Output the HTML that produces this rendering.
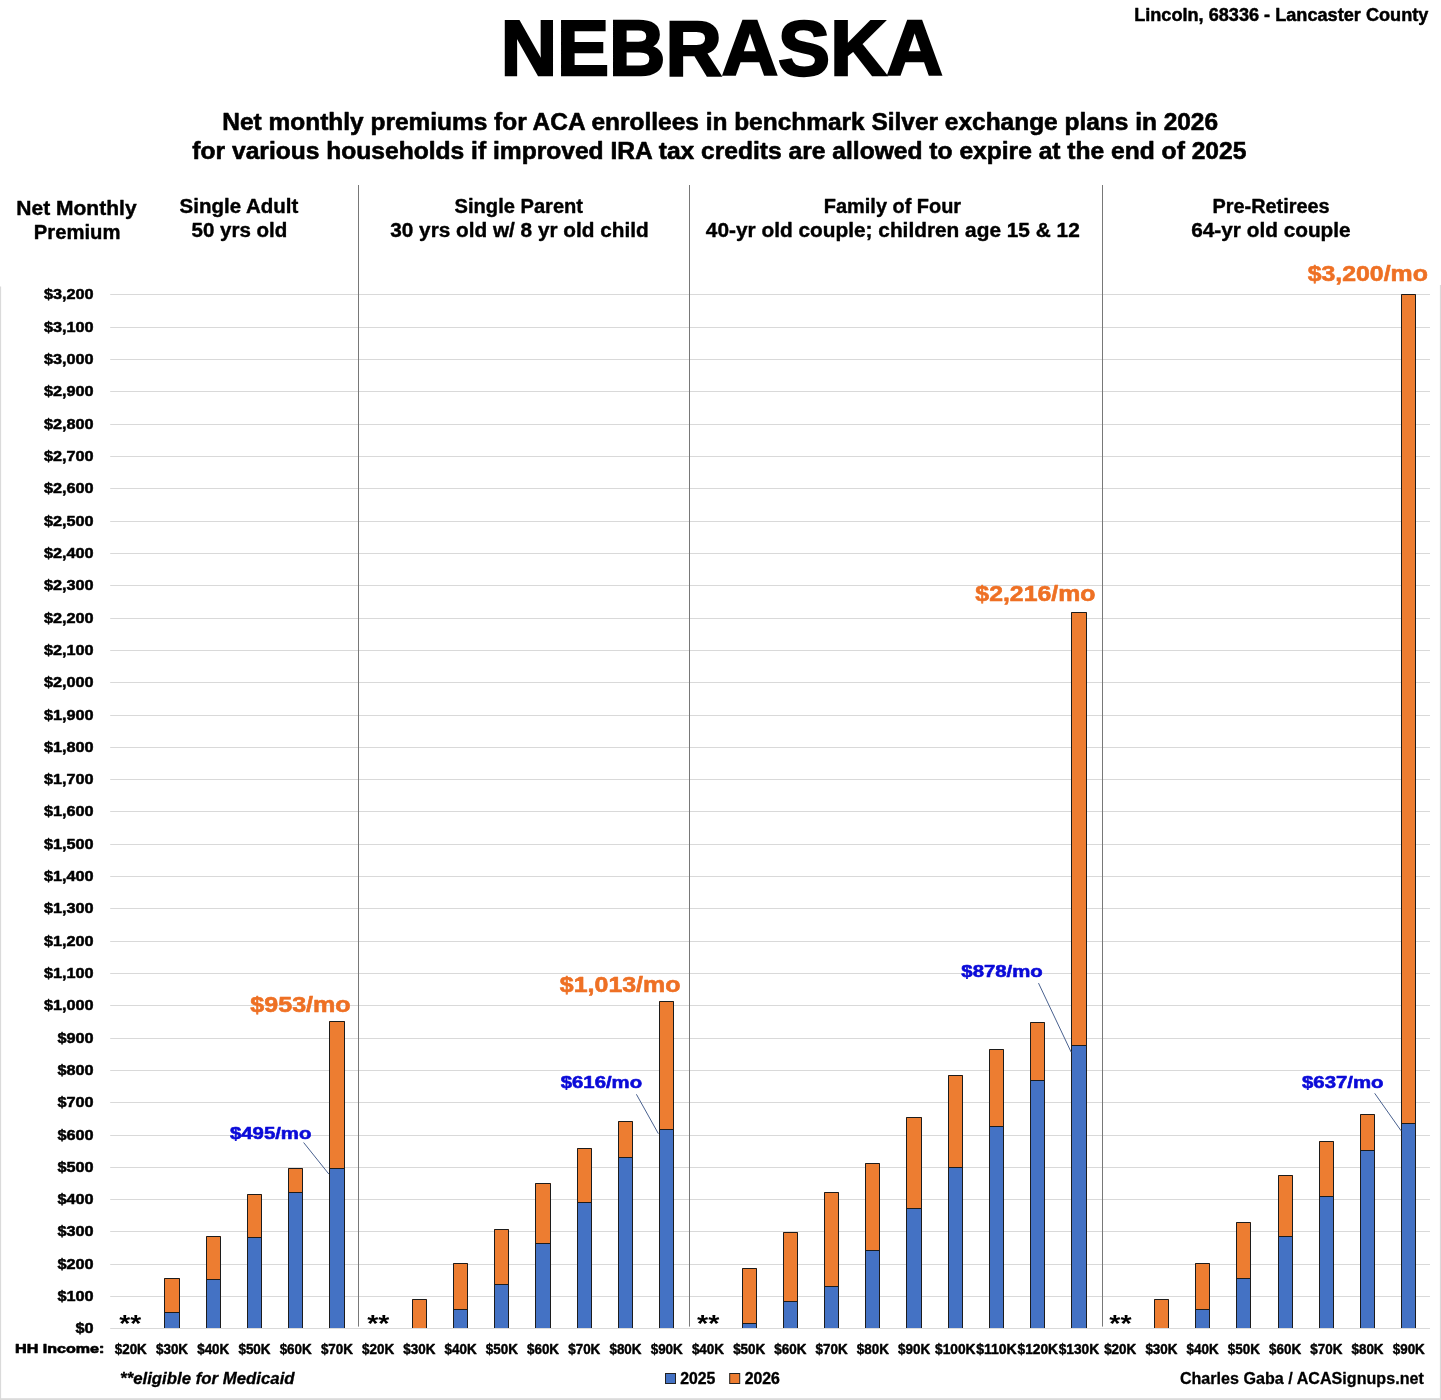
<!DOCTYPE html>
<html lang="en"><head><meta charset="utf-8"><title>Nebraska - ACA net monthly premiums 2026</title>
<style>
html,body{margin:0;padding:0;background:#fff;}
body{width:1441px;height:1400px;overflow:hidden;}
svg{display:block;will-change:transform;font-family:"Liberation Sans",sans-serif;font-weight:700;}
text{white-space:pre;}
</style></head><body>
<svg role="img" aria-label="Nebraska ACA net monthly premiums chart" width="1441" height="1400" viewBox="0 0 1441 1400">
<rect width="1441" height="1400" fill="#fff"/>
<rect x="0" y="286.5" width="1.1" height="1113.5" fill="#DADADA"/>
<rect x="1439.9" y="285" width="1.1" height="1115" fill="#DADADA"/>
<rect x="0" y="1398.2" width="1441" height="1.8" fill="#DADADA"/>
<line x1="110.2" x2="1430.0" y1="1328.5" y2="1328.5" stroke="#D9D9D9" stroke-width="1"/>
<line x1="110.2" x2="1430.0" y1="1296.5" y2="1296.5" stroke="#D9D9D9" stroke-width="1"/>
<line x1="110.2" x2="1430.0" y1="1264.5" y2="1264.5" stroke="#D9D9D9" stroke-width="1"/>
<line x1="110.2" x2="1430.0" y1="1231.5" y2="1231.5" stroke="#D9D9D9" stroke-width="1"/>
<line x1="110.2" x2="1430.0" y1="1199.5" y2="1199.5" stroke="#D9D9D9" stroke-width="1"/>
<line x1="110.2" x2="1430.0" y1="1167.5" y2="1167.5" stroke="#D9D9D9" stroke-width="1"/>
<line x1="110.2" x2="1430.0" y1="1135.5" y2="1135.5" stroke="#D9D9D9" stroke-width="1"/>
<line x1="110.2" x2="1430.0" y1="1102.5" y2="1102.5" stroke="#D9D9D9" stroke-width="1"/>
<line x1="110.2" x2="1430.0" y1="1070.5" y2="1070.5" stroke="#D9D9D9" stroke-width="1"/>
<line x1="110.2" x2="1430.0" y1="1038.5" y2="1038.5" stroke="#D9D9D9" stroke-width="1"/>
<line x1="110.2" x2="1430.0" y1="1005.5" y2="1005.5" stroke="#D9D9D9" stroke-width="1"/>
<line x1="110.2" x2="1430.0" y1="973.5" y2="973.5" stroke="#D9D9D9" stroke-width="1"/>
<line x1="110.2" x2="1430.0" y1="941.5" y2="941.5" stroke="#D9D9D9" stroke-width="1"/>
<line x1="110.2" x2="1430.0" y1="908.5" y2="908.5" stroke="#D9D9D9" stroke-width="1"/>
<line x1="110.2" x2="1430.0" y1="876.5" y2="876.5" stroke="#D9D9D9" stroke-width="1"/>
<line x1="110.2" x2="1430.0" y1="844.5" y2="844.5" stroke="#D9D9D9" stroke-width="1"/>
<line x1="110.2" x2="1430.0" y1="811.5" y2="811.5" stroke="#D9D9D9" stroke-width="1"/>
<line x1="110.2" x2="1430.0" y1="779.5" y2="779.5" stroke="#D9D9D9" stroke-width="1"/>
<line x1="110.2" x2="1430.0" y1="747.5" y2="747.5" stroke="#D9D9D9" stroke-width="1"/>
<line x1="110.2" x2="1430.0" y1="715.5" y2="715.5" stroke="#D9D9D9" stroke-width="1"/>
<line x1="110.2" x2="1430.0" y1="682.5" y2="682.5" stroke="#D9D9D9" stroke-width="1"/>
<line x1="110.2" x2="1430.0" y1="650.5" y2="650.5" stroke="#D9D9D9" stroke-width="1"/>
<line x1="110.2" x2="1430.0" y1="618.5" y2="618.5" stroke="#D9D9D9" stroke-width="1"/>
<line x1="110.2" x2="1430.0" y1="585.5" y2="585.5" stroke="#D9D9D9" stroke-width="1"/>
<line x1="110.2" x2="1430.0" y1="553.5" y2="553.5" stroke="#D9D9D9" stroke-width="1"/>
<line x1="110.2" x2="1430.0" y1="521.5" y2="521.5" stroke="#D9D9D9" stroke-width="1"/>
<line x1="110.2" x2="1430.0" y1="488.5" y2="488.5" stroke="#D9D9D9" stroke-width="1"/>
<line x1="110.2" x2="1430.0" y1="456.5" y2="456.5" stroke="#D9D9D9" stroke-width="1"/>
<line x1="110.2" x2="1430.0" y1="424.5" y2="424.5" stroke="#D9D9D9" stroke-width="1"/>
<line x1="110.2" x2="1430.0" y1="391.5" y2="391.5" stroke="#D9D9D9" stroke-width="1"/>
<line x1="110.2" x2="1430.0" y1="359.5" y2="359.5" stroke="#D9D9D9" stroke-width="1"/>
<line x1="110.2" x2="1430.0" y1="327.5" y2="327.5" stroke="#D9D9D9" stroke-width="1"/>
<line x1="110.2" x2="1430.0" y1="294.5" y2="294.5" stroke="#D9D9D9" stroke-width="1"/>
<line x1="358.5" x2="358.5" y1="185" y2="1326.6" stroke="#787878" stroke-width="1"/>
<line x1="689.5" x2="689.5" y1="185" y2="1326.6" stroke="#787878" stroke-width="1"/>
<line x1="1102.5" x2="1102.5" y1="185" y2="1326.6" stroke="#787878" stroke-width="1"/>
<rect x="164" y="1278" width="16" height="34.50" fill="#ED7D31"/>
<rect x="164" y="1312.5" width="16" height="15.50" fill="#4472C4"/>
<path d="M164.5 1328.00 V1278.5 H179.5 V1328.00 M164 1312.5 H180" fill="none" stroke="#1c1c1c" stroke-width="1"/>
<rect x="206" y="1236" width="15" height="43.50" fill="#ED7D31"/>
<rect x="206" y="1279.5" width="15" height="48.50" fill="#4472C4"/>
<path d="M206.5 1328.00 V1236.5 H220.5 V1328.00 M206 1279.5 H221" fill="none" stroke="#1c1c1c" stroke-width="1"/>
<rect x="247" y="1194" width="15" height="43.50" fill="#ED7D31"/>
<rect x="247" y="1237.5" width="15" height="90.50" fill="#4472C4"/>
<path d="M247.5 1328.00 V1194.5 H261.5 V1328.00 M247 1237.5 H262" fill="none" stroke="#1c1c1c" stroke-width="1"/>
<rect x="288" y="1168" width="15" height="24.50" fill="#ED7D31"/>
<rect x="288" y="1192.5" width="15" height="135.50" fill="#4472C4"/>
<path d="M288.5 1328.00 V1168.5 H302.5 V1328.00 M288 1192.5 H303" fill="none" stroke="#1c1c1c" stroke-width="1"/>
<rect x="329" y="1021" width="16" height="147.50" fill="#ED7D31"/>
<rect x="329" y="1168.5" width="16" height="159.50" fill="#4472C4"/>
<path d="M329.5 1328.00 V1021.5 H344.5 V1328.00 M329 1168.5 H345" fill="none" stroke="#1c1c1c" stroke-width="1"/>
<rect x="412" y="1299" width="15" height="29.00" fill="#ED7D31"/>
<path d="M412.5 1328.00 V1299.5 H426.5 V1328.00" fill="none" stroke="#1c1c1c" stroke-width="1"/>
<rect x="453" y="1263" width="15" height="46.50" fill="#ED7D31"/>
<rect x="453" y="1309.5" width="15" height="18.50" fill="#4472C4"/>
<path d="M453.5 1328.00 V1263.5 H467.5 V1328.00 M453 1309.5 H468" fill="none" stroke="#1c1c1c" stroke-width="1"/>
<rect x="494" y="1229" width="15" height="55.50" fill="#ED7D31"/>
<rect x="494" y="1284.5" width="15" height="43.50" fill="#4472C4"/>
<path d="M494.5 1328.00 V1229.5 H508.5 V1328.00 M494 1284.5 H509" fill="none" stroke="#1c1c1c" stroke-width="1"/>
<rect x="535" y="1183" width="16" height="60.50" fill="#ED7D31"/>
<rect x="535" y="1243.5" width="16" height="84.50" fill="#4472C4"/>
<path d="M535.5 1328.00 V1183.5 H550.5 V1328.00 M535 1243.5 H551" fill="none" stroke="#1c1c1c" stroke-width="1"/>
<rect x="577" y="1148" width="15" height="54.50" fill="#ED7D31"/>
<rect x="577" y="1202.5" width="15" height="125.50" fill="#4472C4"/>
<path d="M577.5 1328.00 V1148.5 H591.5 V1328.00 M577 1202.5 H592" fill="none" stroke="#1c1c1c" stroke-width="1"/>
<rect x="618" y="1121" width="15" height="36.50" fill="#ED7D31"/>
<rect x="618" y="1157.5" width="15" height="170.50" fill="#4472C4"/>
<path d="M618.5 1328.00 V1121.5 H632.5 V1328.00 M618 1157.5 H633" fill="none" stroke="#1c1c1c" stroke-width="1"/>
<rect x="659" y="1001" width="15" height="128.50" fill="#ED7D31"/>
<rect x="659" y="1129.5" width="15" height="198.50" fill="#4472C4"/>
<path d="M659.5 1328.00 V1001.5 H673.5 V1328.00 M659 1129.5 H674" fill="none" stroke="#1c1c1c" stroke-width="1"/>
<rect x="742" y="1268" width="15" height="55.50" fill="#ED7D31"/>
<rect x="742" y="1323.5" width="15" height="4.50" fill="#4472C4"/>
<path d="M742.5 1328.00 V1268.5 H756.5 V1328.00 M742 1323.5 H757" fill="none" stroke="#1c1c1c" stroke-width="1"/>
<rect x="783" y="1232" width="15" height="69.50" fill="#ED7D31"/>
<rect x="783" y="1301.5" width="15" height="26.50" fill="#4472C4"/>
<path d="M783.5 1328.00 V1232.5 H797.5 V1328.00 M783 1301.5 H798" fill="none" stroke="#1c1c1c" stroke-width="1"/>
<rect x="824" y="1192" width="15" height="94.50" fill="#ED7D31"/>
<rect x="824" y="1286.5" width="15" height="41.50" fill="#4472C4"/>
<path d="M824.5 1328.00 V1192.5 H838.5 V1328.00 M824 1286.5 H839" fill="none" stroke="#1c1c1c" stroke-width="1"/>
<rect x="865" y="1163" width="15" height="87.50" fill="#ED7D31"/>
<rect x="865" y="1250.5" width="15" height="77.50" fill="#4472C4"/>
<path d="M865.5 1328.00 V1163.5 H879.5 V1328.00 M865 1250.5 H880" fill="none" stroke="#1c1c1c" stroke-width="1"/>
<rect x="906" y="1117" width="16" height="91.50" fill="#ED7D31"/>
<rect x="906" y="1208.5" width="16" height="119.50" fill="#4472C4"/>
<path d="M906.5 1328.00 V1117.5 H921.5 V1328.00 M906 1208.5 H922" fill="none" stroke="#1c1c1c" stroke-width="1"/>
<rect x="948" y="1075" width="15" height="92.50" fill="#ED7D31"/>
<rect x="948" y="1167.5" width="15" height="160.50" fill="#4472C4"/>
<path d="M948.5 1328.00 V1075.5 H962.5 V1328.00 M948 1167.5 H963" fill="none" stroke="#1c1c1c" stroke-width="1"/>
<rect x="989" y="1049" width="15" height="77.50" fill="#ED7D31"/>
<rect x="989" y="1126.5" width="15" height="201.50" fill="#4472C4"/>
<path d="M989.5 1328.00 V1049.5 H1003.5 V1328.00 M989 1126.5 H1004" fill="none" stroke="#1c1c1c" stroke-width="1"/>
<rect x="1030" y="1022" width="15" height="58.50" fill="#ED7D31"/>
<rect x="1030" y="1080.5" width="15" height="247.50" fill="#4472C4"/>
<path d="M1030.5 1328.00 V1022.5 H1044.5 V1328.00 M1030 1080.5 H1045" fill="none" stroke="#1c1c1c" stroke-width="1"/>
<rect x="1071" y="612" width="16" height="433.50" fill="#ED7D31"/>
<rect x="1071" y="1045.5" width="16" height="282.50" fill="#4472C4"/>
<path d="M1071.5 1328.00 V612.5 H1086.5 V1328.00 M1071 1045.5 H1087" fill="none" stroke="#1c1c1c" stroke-width="1"/>
<rect x="1154" y="1299" width="15" height="29.00" fill="#ED7D31"/>
<path d="M1154.5 1328.00 V1299.5 H1168.5 V1328.00" fill="none" stroke="#1c1c1c" stroke-width="1"/>
<rect x="1195" y="1263" width="15" height="46.50" fill="#ED7D31"/>
<rect x="1195" y="1309.5" width="15" height="18.50" fill="#4472C4"/>
<path d="M1195.5 1328.00 V1263.5 H1209.5 V1328.00 M1195 1309.5 H1210" fill="none" stroke="#1c1c1c" stroke-width="1"/>
<rect x="1236" y="1222" width="15" height="56.50" fill="#ED7D31"/>
<rect x="1236" y="1278.5" width="15" height="49.50" fill="#4472C4"/>
<path d="M1236.5 1328.00 V1222.5 H1250.5 V1328.00 M1236 1278.5 H1251" fill="none" stroke="#1c1c1c" stroke-width="1"/>
<rect x="1278" y="1175" width="15" height="61.50" fill="#ED7D31"/>
<rect x="1278" y="1236.5" width="15" height="91.50" fill="#4472C4"/>
<path d="M1278.5 1328.00 V1175.5 H1292.5 V1328.00 M1278 1236.5 H1293" fill="none" stroke="#1c1c1c" stroke-width="1"/>
<rect x="1319" y="1141" width="15" height="55.50" fill="#ED7D31"/>
<rect x="1319" y="1196.5" width="15" height="131.50" fill="#4472C4"/>
<path d="M1319.5 1328.00 V1141.5 H1333.5 V1328.00 M1319 1196.5 H1334" fill="none" stroke="#1c1c1c" stroke-width="1"/>
<rect x="1360" y="1114" width="15" height="36.50" fill="#ED7D31"/>
<rect x="1360" y="1150.5" width="15" height="177.50" fill="#4472C4"/>
<path d="M1360.5 1328.00 V1114.5 H1374.5 V1328.00 M1360 1150.5 H1375" fill="none" stroke="#1c1c1c" stroke-width="1"/>
<rect x="1401" y="294" width="15" height="829.50" fill="#ED7D31"/>
<rect x="1401" y="1123.5" width="15" height="204.50" fill="#4472C4"/>
<path d="M1401.5 1328.00 V294.5 H1415.5 V1328.00 M1401 1123.5 H1416" fill="none" stroke="#1c1c1c" stroke-width="1"/>
<text x="75.58" y="1333.25" font-size="14.60" textLength="18.09" lengthAdjust="spacingAndGlyphs" fill="#000" stroke="#000" stroke-width="0.50" stroke-linejoin="round">$0</text>
<text x="57.49" y="1301.25" font-size="14.60" textLength="36.18" lengthAdjust="spacingAndGlyphs" fill="#000" stroke="#000" stroke-width="0.50" stroke-linejoin="round">$100</text>
<text x="57.49" y="1269.25" font-size="14.60" textLength="36.18" lengthAdjust="spacingAndGlyphs" fill="#000" stroke="#000" stroke-width="0.50" stroke-linejoin="round">$200</text>
<text x="57.49" y="1236.25" font-size="14.60" textLength="36.18" lengthAdjust="spacingAndGlyphs" fill="#000" stroke="#000" stroke-width="0.50" stroke-linejoin="round">$300</text>
<text x="57.49" y="1204.25" font-size="14.60" textLength="36.18" lengthAdjust="spacingAndGlyphs" fill="#000" stroke="#000" stroke-width="0.50" stroke-linejoin="round">$400</text>
<text x="57.49" y="1172.25" font-size="14.60" textLength="36.18" lengthAdjust="spacingAndGlyphs" fill="#000" stroke="#000" stroke-width="0.50" stroke-linejoin="round">$500</text>
<text x="57.49" y="1140.25" font-size="14.60" textLength="36.18" lengthAdjust="spacingAndGlyphs" fill="#000" stroke="#000" stroke-width="0.50" stroke-linejoin="round">$600</text>
<text x="57.49" y="1107.25" font-size="14.60" textLength="36.18" lengthAdjust="spacingAndGlyphs" fill="#000" stroke="#000" stroke-width="0.50" stroke-linejoin="round">$700</text>
<text x="57.49" y="1075.25" font-size="14.60" textLength="36.18" lengthAdjust="spacingAndGlyphs" fill="#000" stroke="#000" stroke-width="0.50" stroke-linejoin="round">$800</text>
<text x="57.49" y="1043.25" font-size="14.60" textLength="36.18" lengthAdjust="spacingAndGlyphs" fill="#000" stroke="#000" stroke-width="0.50" stroke-linejoin="round">$900</text>
<text x="43.92" y="1010.25" font-size="14.60" textLength="49.75" lengthAdjust="spacingAndGlyphs" fill="#000" stroke="#000" stroke-width="0.50" stroke-linejoin="round">$1,000</text>
<text x="43.92" y="978.25" font-size="14.60" textLength="49.75" lengthAdjust="spacingAndGlyphs" fill="#000" stroke="#000" stroke-width="0.50" stroke-linejoin="round">$1,100</text>
<text x="43.92" y="946.25" font-size="14.60" textLength="49.75" lengthAdjust="spacingAndGlyphs" fill="#000" stroke="#000" stroke-width="0.50" stroke-linejoin="round">$1,200</text>
<text x="43.92" y="913.25" font-size="14.60" textLength="49.75" lengthAdjust="spacingAndGlyphs" fill="#000" stroke="#000" stroke-width="0.50" stroke-linejoin="round">$1,300</text>
<text x="43.92" y="881.25" font-size="14.60" textLength="49.75" lengthAdjust="spacingAndGlyphs" fill="#000" stroke="#000" stroke-width="0.50" stroke-linejoin="round">$1,400</text>
<text x="43.92" y="849.25" font-size="14.60" textLength="49.75" lengthAdjust="spacingAndGlyphs" fill="#000" stroke="#000" stroke-width="0.50" stroke-linejoin="round">$1,500</text>
<text x="43.92" y="816.25" font-size="14.60" textLength="49.75" lengthAdjust="spacingAndGlyphs" fill="#000" stroke="#000" stroke-width="0.50" stroke-linejoin="round">$1,600</text>
<text x="43.92" y="784.25" font-size="14.60" textLength="49.75" lengthAdjust="spacingAndGlyphs" fill="#000" stroke="#000" stroke-width="0.50" stroke-linejoin="round">$1,700</text>
<text x="43.92" y="752.25" font-size="14.60" textLength="49.75" lengthAdjust="spacingAndGlyphs" fill="#000" stroke="#000" stroke-width="0.50" stroke-linejoin="round">$1,800</text>
<text x="43.92" y="720.25" font-size="14.60" textLength="49.75" lengthAdjust="spacingAndGlyphs" fill="#000" stroke="#000" stroke-width="0.50" stroke-linejoin="round">$1,900</text>
<text x="43.92" y="687.25" font-size="14.60" textLength="49.75" lengthAdjust="spacingAndGlyphs" fill="#000" stroke="#000" stroke-width="0.50" stroke-linejoin="round">$2,000</text>
<text x="43.92" y="655.25" font-size="14.60" textLength="49.75" lengthAdjust="spacingAndGlyphs" fill="#000" stroke="#000" stroke-width="0.50" stroke-linejoin="round">$2,100</text>
<text x="43.92" y="623.25" font-size="14.60" textLength="49.75" lengthAdjust="spacingAndGlyphs" fill="#000" stroke="#000" stroke-width="0.50" stroke-linejoin="round">$2,200</text>
<text x="43.92" y="590.25" font-size="14.60" textLength="49.75" lengthAdjust="spacingAndGlyphs" fill="#000" stroke="#000" stroke-width="0.50" stroke-linejoin="round">$2,300</text>
<text x="43.92" y="558.25" font-size="14.60" textLength="49.75" lengthAdjust="spacingAndGlyphs" fill="#000" stroke="#000" stroke-width="0.50" stroke-linejoin="round">$2,400</text>
<text x="43.92" y="526.25" font-size="14.60" textLength="49.75" lengthAdjust="spacingAndGlyphs" fill="#000" stroke="#000" stroke-width="0.50" stroke-linejoin="round">$2,500</text>
<text x="43.92" y="493.25" font-size="14.60" textLength="49.75" lengthAdjust="spacingAndGlyphs" fill="#000" stroke="#000" stroke-width="0.50" stroke-linejoin="round">$2,600</text>
<text x="43.92" y="461.25" font-size="14.60" textLength="49.75" lengthAdjust="spacingAndGlyphs" fill="#000" stroke="#000" stroke-width="0.50" stroke-linejoin="round">$2,700</text>
<text x="43.92" y="429.25" font-size="14.60" textLength="49.75" lengthAdjust="spacingAndGlyphs" fill="#000" stroke="#000" stroke-width="0.50" stroke-linejoin="round">$2,800</text>
<text x="43.92" y="396.25" font-size="14.60" textLength="49.75" lengthAdjust="spacingAndGlyphs" fill="#000" stroke="#000" stroke-width="0.50" stroke-linejoin="round">$2,900</text>
<text x="43.92" y="364.25" font-size="14.60" textLength="49.75" lengthAdjust="spacingAndGlyphs" fill="#000" stroke="#000" stroke-width="0.50" stroke-linejoin="round">$3,000</text>
<text x="43.92" y="332.25" font-size="14.60" textLength="49.75" lengthAdjust="spacingAndGlyphs" fill="#000" stroke="#000" stroke-width="0.50" stroke-linejoin="round">$3,100</text>
<text x="43.92" y="299.25" font-size="14.60" textLength="49.75" lengthAdjust="spacingAndGlyphs" fill="#000" stroke="#000" stroke-width="0.50" stroke-linejoin="round">$3,200</text>
<text x="114.76" y="1354.18" font-size="14.32" textLength="32.05" lengthAdjust="spacingAndGlyphs" fill="#000" stroke="#000" stroke-width="0.45" stroke-linejoin="round">$20K</text>
<text x="155.99" y="1354.18" font-size="14.32" textLength="32.05" lengthAdjust="spacingAndGlyphs" fill="#000" stroke="#000" stroke-width="0.45" stroke-linejoin="round">$30K</text>
<text x="197.21" y="1354.18" font-size="14.32" textLength="32.05" lengthAdjust="spacingAndGlyphs" fill="#000" stroke="#000" stroke-width="0.45" stroke-linejoin="round">$40K</text>
<text x="238.44" y="1354.18" font-size="14.32" textLength="32.05" lengthAdjust="spacingAndGlyphs" fill="#000" stroke="#000" stroke-width="0.45" stroke-linejoin="round">$50K</text>
<text x="279.66" y="1354.18" font-size="14.32" textLength="32.05" lengthAdjust="spacingAndGlyphs" fill="#000" stroke="#000" stroke-width="0.45" stroke-linejoin="round">$60K</text>
<text x="320.89" y="1354.18" font-size="14.32" textLength="32.05" lengthAdjust="spacingAndGlyphs" fill="#000" stroke="#000" stroke-width="0.45" stroke-linejoin="round">$70K</text>
<text x="362.11" y="1354.18" font-size="14.32" textLength="32.05" lengthAdjust="spacingAndGlyphs" fill="#000" stroke="#000" stroke-width="0.45" stroke-linejoin="round">$20K</text>
<text x="403.34" y="1354.18" font-size="14.32" textLength="32.05" lengthAdjust="spacingAndGlyphs" fill="#000" stroke="#000" stroke-width="0.45" stroke-linejoin="round">$30K</text>
<text x="444.56" y="1354.18" font-size="14.32" textLength="32.05" lengthAdjust="spacingAndGlyphs" fill="#000" stroke="#000" stroke-width="0.45" stroke-linejoin="round">$40K</text>
<text x="485.79" y="1354.18" font-size="14.32" textLength="32.05" lengthAdjust="spacingAndGlyphs" fill="#000" stroke="#000" stroke-width="0.45" stroke-linejoin="round">$50K</text>
<text x="527.01" y="1354.18" font-size="14.32" textLength="32.05" lengthAdjust="spacingAndGlyphs" fill="#000" stroke="#000" stroke-width="0.45" stroke-linejoin="round">$60K</text>
<text x="568.24" y="1354.18" font-size="14.32" textLength="32.05" lengthAdjust="spacingAndGlyphs" fill="#000" stroke="#000" stroke-width="0.45" stroke-linejoin="round">$70K</text>
<text x="609.46" y="1354.18" font-size="14.32" textLength="32.05" lengthAdjust="spacingAndGlyphs" fill="#000" stroke="#000" stroke-width="0.45" stroke-linejoin="round">$80K</text>
<text x="650.69" y="1354.18" font-size="14.32" textLength="32.05" lengthAdjust="spacingAndGlyphs" fill="#000" stroke="#000" stroke-width="0.45" stroke-linejoin="round">$90K</text>
<text x="691.91" y="1354.18" font-size="14.32" textLength="32.05" lengthAdjust="spacingAndGlyphs" fill="#000" stroke="#000" stroke-width="0.45" stroke-linejoin="round">$40K</text>
<text x="733.14" y="1354.18" font-size="14.32" textLength="32.05" lengthAdjust="spacingAndGlyphs" fill="#000" stroke="#000" stroke-width="0.45" stroke-linejoin="round">$50K</text>
<text x="774.36" y="1354.18" font-size="14.32" textLength="32.05" lengthAdjust="spacingAndGlyphs" fill="#000" stroke="#000" stroke-width="0.45" stroke-linejoin="round">$60K</text>
<text x="815.59" y="1354.18" font-size="14.32" textLength="32.05" lengthAdjust="spacingAndGlyphs" fill="#000" stroke="#000" stroke-width="0.45" stroke-linejoin="round">$70K</text>
<text x="856.81" y="1354.18" font-size="14.32" textLength="32.05" lengthAdjust="spacingAndGlyphs" fill="#000" stroke="#000" stroke-width="0.45" stroke-linejoin="round">$80K</text>
<text x="898.04" y="1354.18" font-size="14.32" textLength="32.05" lengthAdjust="spacingAndGlyphs" fill="#000" stroke="#000" stroke-width="0.45" stroke-linejoin="round">$90K</text>
<text x="935.06" y="1354.18" font-size="14.32" textLength="40.46" lengthAdjust="spacingAndGlyphs" fill="#000" stroke="#000" stroke-width="0.45" stroke-linejoin="round">$100K</text>
<text x="976.28" y="1354.18" font-size="14.32" textLength="40.46" lengthAdjust="spacingAndGlyphs" fill="#000" stroke="#000" stroke-width="0.45" stroke-linejoin="round">$110K</text>
<text x="1017.51" y="1354.18" font-size="14.32" textLength="40.46" lengthAdjust="spacingAndGlyphs" fill="#000" stroke="#000" stroke-width="0.45" stroke-linejoin="round">$120K</text>
<text x="1058.73" y="1354.18" font-size="14.32" textLength="40.46" lengthAdjust="spacingAndGlyphs" fill="#000" stroke="#000" stroke-width="0.45" stroke-linejoin="round">$130K</text>
<text x="1104.16" y="1354.18" font-size="14.32" textLength="32.05" lengthAdjust="spacingAndGlyphs" fill="#000" stroke="#000" stroke-width="0.45" stroke-linejoin="round">$20K</text>
<text x="1145.39" y="1354.18" font-size="14.32" textLength="32.05" lengthAdjust="spacingAndGlyphs" fill="#000" stroke="#000" stroke-width="0.45" stroke-linejoin="round">$30K</text>
<text x="1186.61" y="1354.18" font-size="14.32" textLength="32.05" lengthAdjust="spacingAndGlyphs" fill="#000" stroke="#000" stroke-width="0.45" stroke-linejoin="round">$40K</text>
<text x="1227.84" y="1354.18" font-size="14.32" textLength="32.05" lengthAdjust="spacingAndGlyphs" fill="#000" stroke="#000" stroke-width="0.45" stroke-linejoin="round">$50K</text>
<text x="1269.06" y="1354.18" font-size="14.32" textLength="32.05" lengthAdjust="spacingAndGlyphs" fill="#000" stroke="#000" stroke-width="0.45" stroke-linejoin="round">$60K</text>
<text x="1310.29" y="1354.18" font-size="14.32" textLength="32.05" lengthAdjust="spacingAndGlyphs" fill="#000" stroke="#000" stroke-width="0.45" stroke-linejoin="round">$70K</text>
<text x="1351.51" y="1354.18" font-size="14.32" textLength="32.05" lengthAdjust="spacingAndGlyphs" fill="#000" stroke="#000" stroke-width="0.45" stroke-linejoin="round">$80K</text>
<text x="1392.74" y="1354.18" font-size="14.32" textLength="32.05" lengthAdjust="spacingAndGlyphs" fill="#000" stroke="#000" stroke-width="0.45" stroke-linejoin="round">$90K</text>
<text x="15.07" y="1352.85" font-size="13.52" textLength="89.32" lengthAdjust="spacingAndGlyphs" fill="#000" stroke="#000" stroke-width="0.70" stroke-linejoin="round">HH Income:</text>
<text x="119.22" y="1331.90" font-size="24.50" textLength="21.91" lengthAdjust="spacingAndGlyphs" fill="#000">**</text>
<text x="367.22" y="1331.90" font-size="24.50" textLength="22.11" lengthAdjust="spacingAndGlyphs" fill="#000">**</text>
<text x="697.12" y="1331.90" font-size="24.50" textLength="22.31" lengthAdjust="spacingAndGlyphs" fill="#000">**</text>
<text x="1109.32" y="1331.90" font-size="24.50" textLength="22.21" lengthAdjust="spacingAndGlyphs" fill="#000">**</text>
<text x="500.68" y="75.10" font-size="78.64" textLength="442.18" lengthAdjust="spacingAndGlyphs" fill="#000" stroke="#000" stroke-width="2.40" stroke-linejoin="miter">NEBRASKA</text>
<text x="1134.14" y="20.65" font-size="18.60" textLength="294.21" lengthAdjust="spacingAndGlyphs" fill="#000" stroke="#000" stroke-width="0.50" stroke-linejoin="round">Lincoln, 68336 - Lancaster County</text>
<text x="222.37" y="129.70" font-size="24.13" textLength="995.71" lengthAdjust="spacingAndGlyphs" fill="#000" stroke="#000" stroke-width="0.60" stroke-linejoin="round">Net monthly premiums for ACA enrollees in benchmark Silver exchange plans in 2026</text>
<text x="192.38" y="158.50" font-size="24.13" textLength="1054.00" lengthAdjust="spacingAndGlyphs" fill="#000" stroke="#000" stroke-width="0.60" stroke-linejoin="round">for various households if improved IRA tax credits are allowed to expire at the end of 2025</text>
<text x="16.29" y="214.80" font-size="19.62" textLength="120.32" lengthAdjust="spacingAndGlyphs" fill="#000" stroke="#000" stroke-width="0.40" stroke-linejoin="round">Net Monthly</text>
<text x="33.85" y="238.60" font-size="19.62" textLength="86.61" lengthAdjust="spacingAndGlyphs" fill="#000" stroke="#000" stroke-width="0.40" stroke-linejoin="round">Premium</text>
<text x="179.61" y="212.50" font-size="19.91" textLength="118.63" lengthAdjust="spacingAndGlyphs" fill="#000" stroke="#000" stroke-width="0.40" stroke-linejoin="round">Single Adult</text>
<text x="191.57" y="236.50" font-size="19.91" textLength="95.78" lengthAdjust="spacingAndGlyphs" fill="#000" stroke="#000" stroke-width="0.40" stroke-linejoin="round">50 yrs old</text>
<text x="454.62" y="212.50" font-size="19.91" textLength="128.42" lengthAdjust="spacingAndGlyphs" fill="#000" stroke="#000" stroke-width="0.40" stroke-linejoin="round">Single Parent</text>
<text x="390.22" y="236.50" font-size="19.91" textLength="258.45" lengthAdjust="spacingAndGlyphs" fill="#000" stroke="#000" stroke-width="0.40" stroke-linejoin="round">30 yrs old w/ 8 yr old child</text>
<text x="823.87" y="212.50" font-size="19.91" textLength="137.23" lengthAdjust="spacingAndGlyphs" fill="#000" stroke="#000" stroke-width="0.40" stroke-linejoin="round">Family of Four</text>
<text x="705.88" y="236.50" font-size="19.91" textLength="373.85" lengthAdjust="spacingAndGlyphs" fill="#000" stroke="#000" stroke-width="0.40" stroke-linejoin="round">40-yr old couple; children age 15 &amp; 12</text>
<text x="1212.47" y="212.50" font-size="19.91" textLength="117.15" lengthAdjust="spacingAndGlyphs" fill="#000" stroke="#000" stroke-width="0.40" stroke-linejoin="round">Pre-Retirees</text>
<text x="1191.24" y="236.50" font-size="19.91" textLength="159.37" lengthAdjust="spacingAndGlyphs" fill="#000" stroke="#000" stroke-width="0.40" stroke-linejoin="round">64-yr old couple</text>
<text x="250.37" y="1011.80" font-size="21.66" textLength="100.31" lengthAdjust="spacingAndGlyphs" fill="#EE7024" stroke="#EE7024" stroke-width="0.60" stroke-linejoin="round">$953/mo</text>
<text x="559.87" y="991.70" font-size="21.66" textLength="120.60" lengthAdjust="spacingAndGlyphs" fill="#EE7024" stroke="#EE7024" stroke-width="0.60" stroke-linejoin="round">$1,013/mo</text>
<text x="975.37" y="601.30" font-size="21.66" textLength="120.00" lengthAdjust="spacingAndGlyphs" fill="#EE7024" stroke="#EE7024" stroke-width="0.60" stroke-linejoin="round">$2,216/mo</text>
<text x="1307.67" y="280.70" font-size="21.66" textLength="120.20" lengthAdjust="spacingAndGlyphs" fill="#EE7024" stroke="#EE7024" stroke-width="0.60" stroke-linejoin="round">$3,200/mo</text>
<text x="229.93" y="1139.10" font-size="17.15" textLength="81.46" lengthAdjust="spacingAndGlyphs" fill="#0A0AD8" stroke="#0A0AD8" stroke-width="0.60" stroke-linejoin="round">$495/mo</text>
<text x="560.73" y="1088.40" font-size="17.15" textLength="81.36" lengthAdjust="spacingAndGlyphs" fill="#0A0AD8" stroke="#0A0AD8" stroke-width="0.60" stroke-linejoin="round">$616/mo</text>
<text x="961.33" y="976.70" font-size="17.15" textLength="81.46" lengthAdjust="spacingAndGlyphs" fill="#0A0AD8" stroke="#0A0AD8" stroke-width="0.60" stroke-linejoin="round">$878/mo</text>
<text x="1302.03" y="1087.70" font-size="17.15" textLength="81.56" lengthAdjust="spacingAndGlyphs" fill="#0A0AD8" stroke="#0A0AD8" stroke-width="0.60" stroke-linejoin="round">$637/mo</text>
<line x1="303.6" y1="1142.5" x2="328.9" y2="1174.1" stroke="#49618f" stroke-width="1"/>
<line x1="636.4" y1="1094.3" x2="658.4" y2="1133.7" stroke="#49618f" stroke-width="1"/>
<line x1="1038.5" y1="983.1" x2="1071.2" y2="1052.2" stroke="#49618f" stroke-width="1"/>
<line x1="1374.7" y1="1093.3" x2="1401.1" y2="1130.8" stroke="#49618f" stroke-width="1"/>
<rect x="665.5" y="1373.5" width="10" height="10" fill="#4472C4" stroke="#222" stroke-width="1"/>
<rect x="729.7" y="1373.5" width="10" height="10" fill="#ED7D31" stroke="#222" stroke-width="1"/>
<text x="680.15" y="1383.70" font-size="16.28" textLength="35.09" lengthAdjust="spacingAndGlyphs" fill="#000" stroke="#000" stroke-width="0.40" stroke-linejoin="round">2025</text>
<text x="744.65" y="1383.70" font-size="16.28" textLength="35.22" lengthAdjust="spacingAndGlyphs" fill="#000" stroke="#000" stroke-width="0.40" stroke-linejoin="round">2026</text>
<text x="120.13" y="1383.75" font-size="16.13" textLength="174.43" lengthAdjust="spacingAndGlyphs" fill="#000" font-style="italic" stroke="#000" stroke-width="0.30" stroke-linejoin="round">**eligible for Medicaid</text>
<text x="1179.89" y="1383.85" font-size="17.01" textLength="243.96" lengthAdjust="spacingAndGlyphs" fill="#000" stroke="#000" stroke-width="0.30" stroke-linejoin="round">Charles Gaba / ACASignups.net</text>
</svg>
</body></html>
